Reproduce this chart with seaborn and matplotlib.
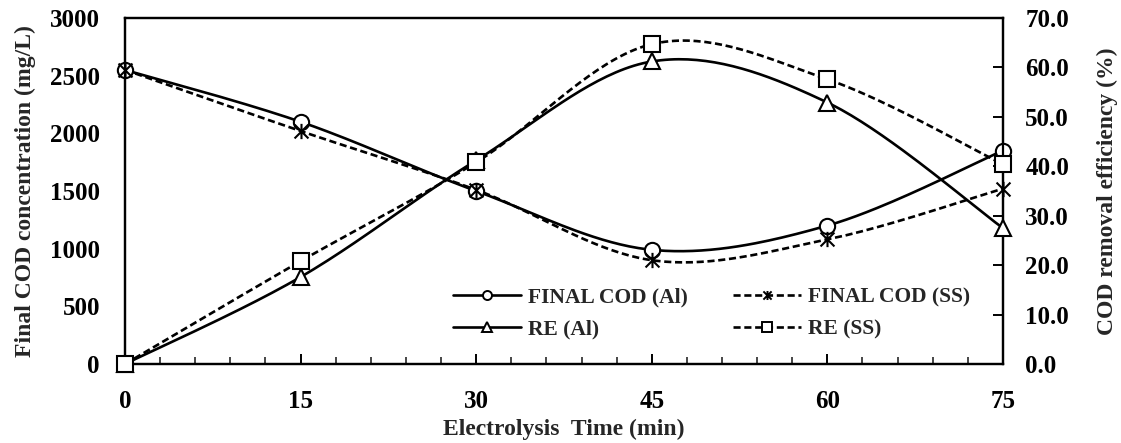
import numpy as np
import pandas as pd
import matplotlib
matplotlib.use("Agg")
import matplotlib.pyplot as plt
import seaborn as sns
from matplotlib.path import Path
from matplotlib.lines import Line2D
from matplotlib.ticker import MultipleLocator, FormatStrFormatter
from matplotlib.font_manager import FontProperties

# ---- data ----
time_min = [0, 15, 30, 45, 60, 75]
cod_al = [2550, 2100, 1500, 990, 1200, 1850]
cod_ss = [2550, 2020, 1510, 900, 1080, 1520]
re_al = [0.0, 17.6, 41.2, 61.2, 52.9, 27.5]
re_ss = [0.0, 20.8, 40.8, 64.7, 57.6, 40.4]
x_ticks = [0, 15, 30, 45, 60, 75]

sns.set_theme(style="white")
plt.rcParams["font.family"] = ["Liberation Serif", "DejaVu Serif"]
plt.rcParams["font.weight"] = "bold"
plt.rcParams["axes.labelweight"] = "bold"

FS = 18
FL = 17
FLEG = 15.5


def smooth(x, y, n=40):
    """Excel-like smoothed line (Catmull-Rom Bezier) through the data points."""
    P = np.column_stack([x, y]).astype(float)
    out = []
    m = len(P)
    for i in range(m - 1):
        p0 = P[i - 1] if i > 0 else P[i]
        p1 = P[i]
        p2 = P[i + 1]
        p3 = P[i + 2] if i + 2 < m else P[i + 1]
        c1 = p1 + (p2 - p0) / 6.0
        c2 = p2 - (p3 - p1) / 6.0
        t = np.linspace(0, 1, n)[:, None]
        seg = ((1 - t) ** 3) * p1 + 3 * ((1 - t) ** 2) * t * c1 + 3 * (1 - t) * t ** 2 * c2 + t ** 3 * p2
        out.append(seg if i == 0 else seg[1:])
    s = np.vstack(out)
    return s[:, 0], s[:, 1]


star = Path([(-1, -1), (1, 1), (-1, 1), (1, -1), (0, -1.1), (0, 1.1)],
            [Path.MOVETO, Path.LINETO, Path.MOVETO, Path.LINETO, Path.MOVETO, Path.LINETO])

fig = plt.figure(figsize=(11.21, 4.43), dpi=100)
ax = fig.add_axes([0.1115, 0.1783, 0.7832, 0.7811])
ax2 = ax.twinx()

LW = 1.9
DASH = (0, (2.7, 1.4))
MS = 11

series = [
    (ax, cod_al, "o", "-", "FINAL COD (Al)"),
    (ax, cod_ss, star, DASH, "FINAL COD (SS)"),
    (ax2, re_al, "^", "-", "RE (Al)"),
    (ax2, re_ss, "s", DASH, "RE (SS)"),
]
handles = {}
for a, yv, mk, ls, lab in series:
    sx, sy = smooth(time_min, yv)
    df = pd.DataFrame({"t": sx, "v": sy})
    sns.lineplot(data=df, x="t", y="v", ax=a, color="black", linewidth=LW,
                 linestyle=ls, sort=False, estimator=None, legend=False)
    a.plot(time_min, yv, linestyle="none", marker=mk, markersize=MS,
           markerfacecolor="white", markeredgecolor="black", markeredgewidth=1.5,
           clip_on=False, zorder=5)
    handles[lab] = Line2D([], [], color="black", linewidth=LW, linestyle=ls, marker=mk,
                          markersize=6.5, markerfacecolor="white", markeredgecolor="black",
                          markeredgewidth=1.4)

ax.set_xlim(0, 75)
ax.set_ylim(0, 3000)
ax2.set_ylim(0, 70)
ax.set_xticks(x_ticks)
ax.xaxis.set_minor_locator(MultipleLocator(3))
ax.yaxis.set_major_locator(MultipleLocator(500))
ax2.yaxis.set_major_locator(MultipleLocator(10))
ax2.yaxis.set_major_formatter(FormatStrFormatter("%.1f"))

for a in (ax, ax2):
    for sp in a.spines.values():
        sp.set_color("black")
        sp.set_linewidth(1.6)

ax.tick_params(axis="x", which="major", direction="in", length=7, width=1.4,
               pad=19, labelsize=FS, colors="black", bottom=True)
ax.tick_params(axis="x", which="minor", direction="in", length=5, width=1.2, bottom=True)
ax.tick_params(axis="y", length=0, pad=18, labelsize=FS, colors="black")
ax2.tick_params(axis="y", direction="in", length=7, width=1.4, pad=16,
                labelsize=FS, colors="black", right=True)

ax.set_xlabel("Electrolysis  Time (min)", fontsize=FL, fontweight="bold", labelpad=4)
ax.set_ylabel("Final COD concentration (mg/L)", fontsize=FL, fontweight="bold", labelpad=10)
ax2.set_ylabel("COD removal efficiency (%)", fontsize=FL, fontweight="bold", labelpad=20)

fp = FontProperties(family="Liberation Serif", weight="bold", size=FLEG)
order = ["FINAL COD (Al)", "RE (Al)", "FINAL COD (SS)", "RE (SS)"]
leg = ax2.legend([handles[k] for k in order], order, loc="upper left",
                 bbox_to_anchor=(0.364, 0.245), ncol=2, frameon=False,
                 prop=fp, handlelength=3.15, handletextpad=0.33, columnspacing=2.1,
                 labelspacing=0.55, borderaxespad=0, numpoints=1)
for t in leg.get_texts():
    t.set_fontweight("bold")

fig.savefig("out.png", dpi=100)
